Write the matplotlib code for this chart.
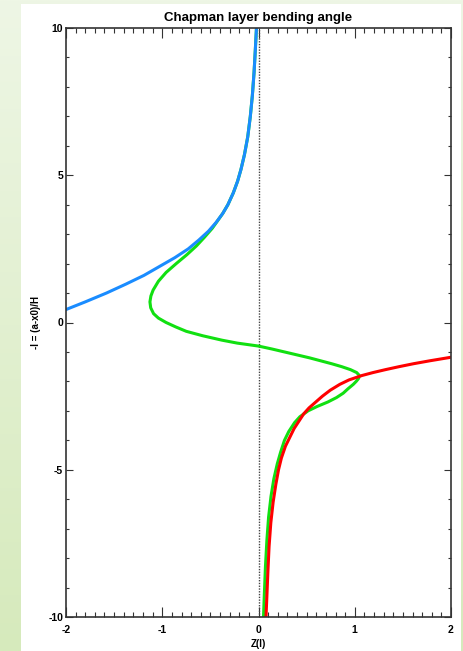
import matplotlib
matplotlib.use("Agg")
import matplotlib.pyplot as plt
import numpy as np
from matplotlib.patches import Rectangle
from matplotlib.ticker import MultipleLocator

plt.rcParams['font.family'] = ['Liberation Sans', 'DejaVu Sans']
plt.rcParams['font.weight'] = 'bold'
plt.rcParams['axes.unicode_minus'] = False

# upper branch (blue): -l vs Z(l)
blue_l = [0.44, 0.7, 1.0, 1.3, 1.6, 1.9, 2.2, 2.5, 2.8, 3.1, 3.4, 3.7, 4.0,
          4.4, 4.8, 5.2, 5.7, 6.3, 7.0, 7.7, 8.5, 9.2, 10.0]
blue_z = [-2.00, -1.80, -1.58, -1.38, -1.19, -1.03, -0.87, -0.73, -0.62,
          -0.52, -0.44, -0.372, -0.318, -0.262, -0.217, -0.182, -0.146, -0.112,
          -0.085, -0.064, -0.046, -0.034, -0.021]

# lower branch (red)
red_l = [-1.18, -1.3, -1.4, -1.5, -1.6, -1.7, -1.8, -1.95, -2.1, -2.3, -2.5,
         -2.7, -2.9, -3.1, -3.35, -3.6, -3.9, -4.2, -4.6, -5.0, -5.5, -6.1,
         -6.8, -7.6, -8.5, -9.3, -10.0]
red_z = [2.00, 1.78, 1.61, 1.46, 1.32, 1.19, 1.075, 0.94, 0.845, 0.745, 0.665,
         0.595, 0.525, 0.47, 0.42, 0.37, 0.325, 0.28, 0.238, 0.208, 0.18,
         0.152, 0.128, 0.11, 0.097, 0.087, 0.078]

# full Chapman layer (green)
green_l = [10.0, 9.2, 8.5, 7.7, 7.0, 6.3, 5.7, 5.2, 4.8, 4.4, 4.0, 3.7, 3.5,
           3.2, 2.9, 2.6, 2.3, 2.0, 1.7, 1.4, 1.1, 0.9, 0.7, 0.5, 0.3, 0.15,
           0.0, -0.15, -0.3, -0.45, -0.6, -0.7, -0.8, -0.9, -1.0, -1.1, -1.2,
           -1.3, -1.4, -1.5, -1.6, -1.7, -1.8, -1.9, -2.0, -2.1, -2.25, -2.4,
           -2.55, -2.7, -2.85, -3.0, -3.2, -3.4, -3.7, -4.0, -4.4, -4.8, -5.3,
           -5.9, -6.6, -7.4, -8.3, -9.2, -10.0]
green_z = [-0.021, -0.034, -0.046, -0.064, -0.085, -0.112, -0.146, -0.182,
           -0.217, -0.262, -0.318, -0.372, -0.415, -0.48, -0.56, -0.645,
           -0.745, -0.855, -0.96, -1.04, -1.095, -1.118, -1.128, -1.12, -1.09,
           -1.04, -0.96, -0.86, -0.75, -0.58, -0.38, -0.22, 0.0, 0.14, 0.27,
           0.40, 0.53, 0.645, 0.76, 0.865, 0.955, 1.02, 1.048, 1.04, 1.015,
           0.985, 0.93, 0.88, 0.81, 0.72, 0.61, 0.515, 0.43, 0.375, 0.315,
           0.27, 0.23, 0.195, 0.16, 0.13, 0.105, 0.087, 0.072, 0.061, 0.052]

W, H = 463, 651
fig = plt.figure(figsize=(W / 100, H / 100), dpi=100)

# soft green page background
bg = fig.add_axes([0, 0, 1, 1], zorder=-10)
bg.axis('off')
top = np.array([238, 246, 229]) / 255
bot = np.array([214, 234, 188]) / 255
t = np.linspace(0, 1, 256)[:, None, None]
grad = top * (1 - t) + bot * t
bg.imshow(np.repeat(grad, 4, axis=1), aspect='auto', extent=[0, 1, 0, 1])
bg.set_xlim(0, 1)
bg.set_ylim(0, 1)
bg.add_patch(Rectangle((21 / W, 0), 440 / W, 1 - 4 / H, color='white', lw=0))

ax = fig.add_axes([66 / W, 34 / H, 385 / W, 589 / H])
ax.set_xlim(-2, 2)
ax.set_ylim(-10, 10)

ax.plot([0, 0], [-10, 10], color='#444444', lw=1.0, ls=(0, (1, 1)))
ax.plot(green_z, green_l, color='#11e011', lw=2.2, solid_joinstyle='round')
ax.plot(blue_z, blue_l, color='#1a8cff', lw=2.2, solid_joinstyle='round')
ax.plot(red_z, red_l, color='#ff0000', lw=2.2, solid_joinstyle='round')

ax.xaxis.set_major_locator(MultipleLocator(1))
ax.xaxis.set_minor_locator(MultipleLocator(0.1))
ax.yaxis.set_major_locator(MultipleLocator(5))
ax.yaxis.set_minor_locator(MultipleLocator(1))
ax.tick_params(axis='both', which='both', direction='in', top=True, right=True,
               color='#333333', width=0.8, labelsize=7.5)
ax.tick_params(axis='x', which='major', length=7.2, pad=5.5)
ax.tick_params(axis='x', which='minor', length=3.6)
ax.tick_params(axis='y', which='major', length=5, pad=2)
ax.tick_params(axis='y', which='minor', length=2.5)
for lab in ax.get_xticklabels() + ax.get_yticklabels():
    lab.set_fontweight('bold')
for s in ax.spines.values():
    s.set_linewidth(1.2)
    s.set_color('#333333')

ax.set_title('Chapman layer bending angle', fontsize=9.5, fontweight='bold', pad=5)
ax.set_xlabel('Z(l)', fontsize=7, fontweight='bold', labelpad=3)
ax.set_ylabel('-l = (a-x0)/H', fontsize=7, fontweight='bold', labelpad=5)

fig.savefig('out.png', dpi=100)
